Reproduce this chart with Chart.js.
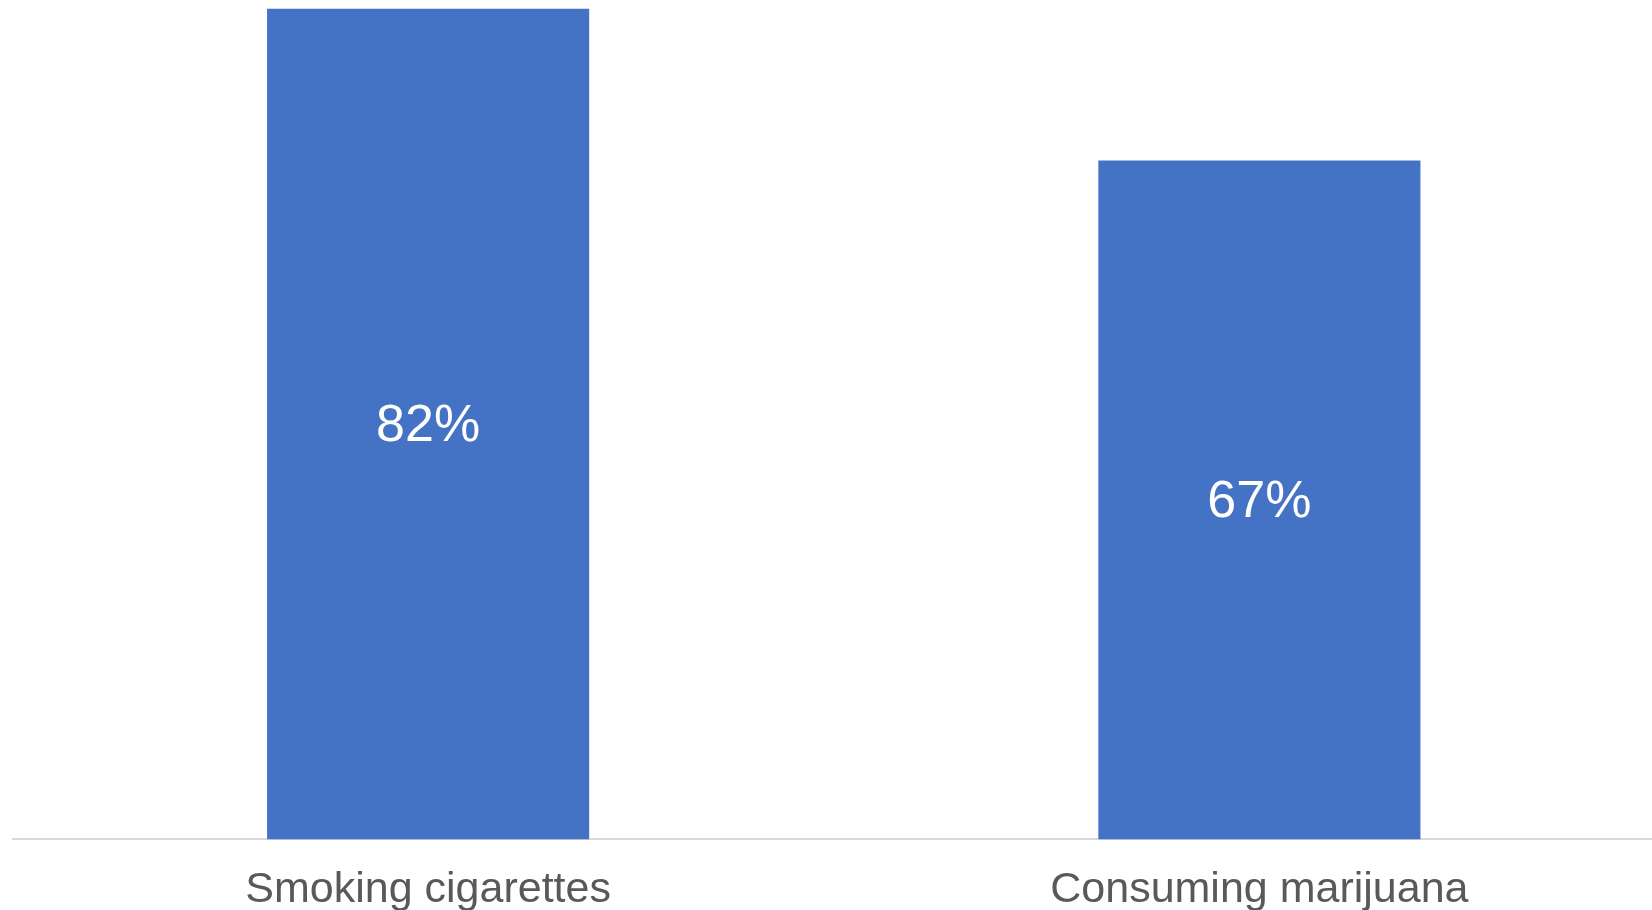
<!DOCTYPE html>
<html>
<head>
<meta charset="utf-8">
<script src="https://cdn.jsdelivr.net/npm/chart.js@4.4.1/dist/chart.umd.min.js"></script>
<style>
    html, body { margin: 0; padding: 0; background: #fff; overflow: hidden; }
    #wrap { position: absolute; left: 0; top: 0; width: 1675px; height: 941px; }
</style>
</head>
<body>
<div id="wrap"><canvas id="chart"></canvas></div>
<script>
const categories = ['Smoking cigarettes', 'Consuming marijuana'];
const shares = [82, 67];

// white % labels in the middle of each bar
const barLabels = {
    id: 'barLabels',
    afterDatasetsDraw(chart) {
        const ctx = chart.ctx;
        const meta = chart.getDatasetMeta(0);
        ctx.save();
        ctx.fillStyle = '#ffffff';
        ctx.font = '52px "Liberation Sans", Arial, sans-serif';
        ctx.textAlign = 'center';
        ctx.textBaseline = 'middle';
        meta.data.forEach((bar, i) => {
            const v = chart.data.datasets[0].data[i];
            ctx.fillText(v + '%', bar.x, (bar.y + bar.base) / 2 + 3);
        });
        ctx.restore();
    }
};

const chartCtx = document.getElementById('chart').getContext('2d');
new Chart(chartCtx, {
    type: 'bar',
    data: {
        labels: categories,
        datasets: [{ data: shares, backgroundColor: '#4472C4', barPercentage: 0.3875, categoryPercentage: 1 }]
    },
    options: {
        responsive: true,
        maintainAspectRatio: false,
        animation: false,
        layout: { padding: { left: 12.5, top: 8.4, right: 0, bottom: 0 } },
        plugins: { legend: { display: false }, tooltip: { enabled: false } },
        scales: {
            x: {
                grid: { display: false, drawTicks: false },
                border: { color: '#d9d9d9', width: 2 },
                ticks: { color: '#595959', padding: 25, font: { family: '"Liberation Sans", Arial, sans-serif', size: 43 } }
            },
            y: { display: false, min: 0, max: 82 }
        }
    },
    plugins: [barLabels]
});
</script>
</body>
</html>
